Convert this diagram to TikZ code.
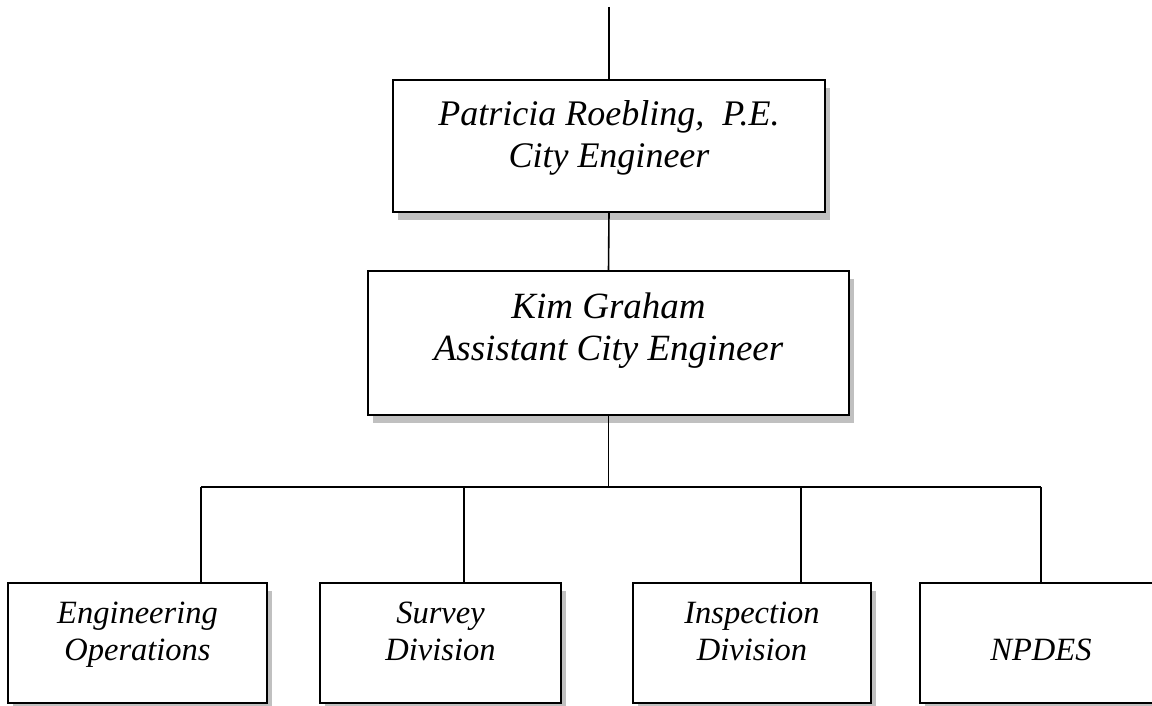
\documentclass[tikz,border=0pt]{standalone}
\usepackage{fontspec}
\setmainfont{Liberation Serif}
\usetikzlibrary{shadows}
\definecolor{shade}{RGB}{192,192,192}
% #1 width, #2 height, #3 first baseline from top, #4 font size, #5 baseline skip, #6 text
\newcommand{\boxtxt}[6]{%
  \vbox to #2{\hsize=#1\relax\fontsize{#4}{#5}\selectfont\itshape
    \lineskiplimit=-100pt\relax\parskip=0pt\relax\parindent=0pt\relax
    \centering\leavevmode\vrule height #3 depth 0pt width 0pt\relax #6\par\vss}}
\tikzset{
  orgbox/.style={draw=black, line width=2pt, fill=white, inner sep=0pt, outer sep=0pt,
    drop shadow={shadow xshift=5pt, shadow yshift=-8pt, fill=shade, opacity=1}},
  link/.style={line width=1.6pt, draw=black}
}
\begin{document}
\begin{tikzpicture}[x=1pt, y=-1pt]
\useasboundingbox (0,0) rectangle (1152,706);
\clip (0,0) rectangle (1152,706);
% boxes
\node[orgbox] (ce) at (609,146)
  {\boxtxt{432pt}{132pt}{45pt}{36pt}{42pt}{Patricia Roebling,\ \ P.E.\\City Engineer}};
\node[orgbox] (ace) at (608.5,343)
  {\boxtxt{481pt}{144pt}{47pt}{37pt}{42.5pt}{Kim Graham\\Assistant City Engineer}};
\node[orgbox] (b1) at (137.5,643)
  {\boxtxt{259pt}{120pt}{40pt}{32.5pt}{37pt}{Engineering\\Operations}};
\node[orgbox] (b2) at (440.5,643)
  {\boxtxt{241pt}{120pt}{40pt}{32.5pt}{37pt}{Survey\\Division}};
\node[orgbox] (b3) at (752,643)
  {\boxtxt{238pt}{120pt}{40pt}{32.5pt}{37pt}{Inspection\\Division}};
\node[orgbox] (b4) at (1041,643)
  {\boxtxt{242pt}{120pt}{40pt}{32.5pt}{37pt}{\mbox{}\\NPDES}};
% connectors
\coordinate (top) at (609,7);
\coordinate (bus) at (608.5,487);
\coordinate (j1) at (201,487);
\coordinate (j2) at (464,487);
\coordinate (j3) at (801,487);
\coordinate (j4) at (1041,487);
\draw[link] (top) -- (ce.north);
\draw[link] (ce.south) -- (ace.north);
\draw[link] (ace.south) -- (bus);
\draw[link] (j1) -- (j4);
\draw[link] (j1) -- (j1 |- b1.north);
\draw[link] (j2) -- (j2 |- b2.north);
\draw[link] (j3) -- (j3 |- b3.north);
\draw[link] (j4) -- (j4 |- b4.north);
\end{tikzpicture}
\end{document}
